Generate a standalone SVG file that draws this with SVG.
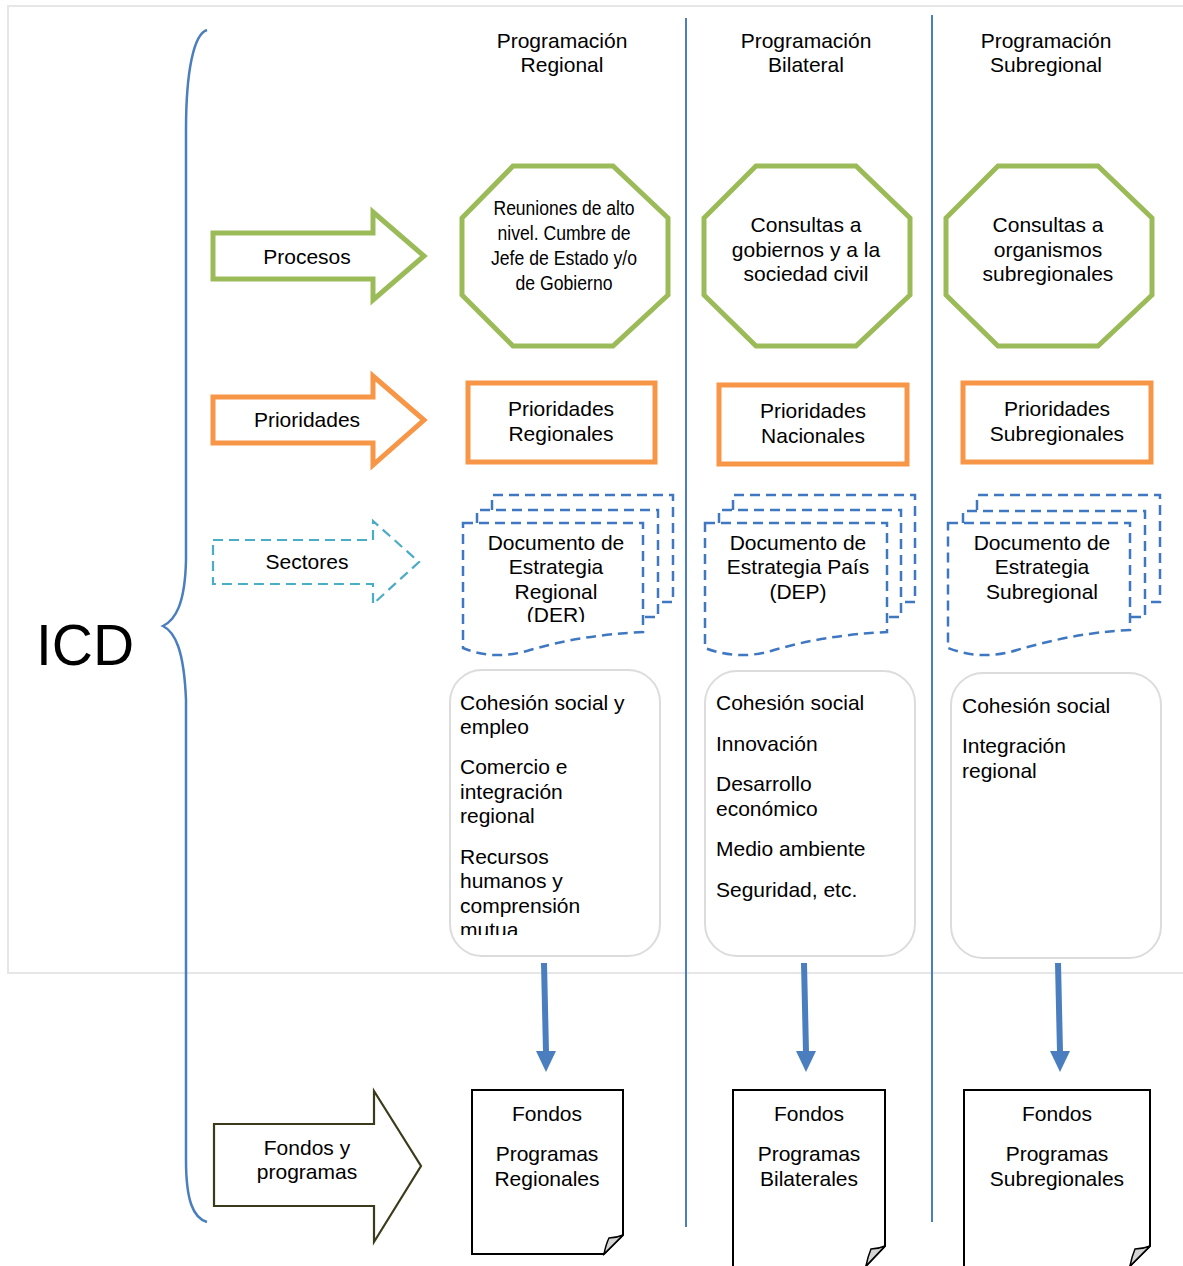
<svg xmlns="http://www.w3.org/2000/svg" width="1183" height="1266" viewBox="0 0 1183 1266">
<style>
text{font-family:"Liberation Sans",Arial,sans-serif;font-size:21px;fill:#000}
.c{text-anchor:middle}
.n{font-size:20.5px}
.oct{fill:#fff;stroke:#9bbb59;stroke-width:5}
.pri{fill:#fff;stroke:#f79646;stroke-width:5}
.doc{fill:#fff;stroke:#3f78c0;stroke-width:2.5;stroke-dasharray:10,6}
.rbox{fill:#fff;stroke:#dcdcdc;stroke-width:2}
.fon{fill:#fff;stroke:#000;stroke-width:2}
.fold{fill:#d4d4d4;stroke:#000;stroke-width:1.5}
.vl{stroke:#4a7ebf;stroke-width:2}
</style>
<defs>
<clipPath id="clipDER"><rect x="460" y="520" width="190" height="102"/></clipPath>
<clipPath id="clipMut"><rect x="450" y="670" width="210" height="265"/></clipPath>
</defs>
<rect x="0" y="0" width="1183" height="1266" fill="#fff"/>
<rect x="8" y="6" width="1190" height="967" fill="none" stroke="#e6e6e6" stroke-width="2"/>
<g id="brace">
<path d="M207,30 C194,34 186,70 186,130 L186,560 C185,605 175,620 163,626 C175,632 184,650 186,700 L186,1160 C186,1200 193,1218 207,1222" fill="none" stroke="#4a7ebf" stroke-width="2.5"/>
</g>
<g id="icd"><text x="36" y="665" style="font-size:57px">ICD</text></g>
<g id="dividers">
<line class="vl" x1="686" y1="18" x2="686" y2="1227"/>
<line class="vl" x1="932" y1="15" x2="932" y2="1222"/>
</g>
<g id="headers">
<text class="c" x="562" y="48">Programación</text><text class="c" x="562" y="72">Regional</text>
<text class="c" x="806" y="48">Programación</text><text class="c" x="806" y="72">Bilateral</text>
<text class="c" x="1046" y="48">Programación</text><text class="c" x="1046" y="72">Subregional</text>
</g>
<g id="arrow-procesos">
<polygon points="213,233 373,233 373,212 424,256 373,300 373,279 213,279" fill="#fff" stroke="#9bbb59" stroke-width="5"/>
<text class="c" x="307" y="264">Procesos</text>
</g>
<g id="arrow-prioridades">
<polygon points="213,397 373,397 373,376 424,420 373,465 373,443 213,443" fill="#fff" stroke="#f79646" stroke-width="5"/>
<text class="c" x="307" y="427">Prioridades</text>
</g>
<g id="arrow-sectores">
<polygon points="213,540 373,540 373,521 419,562 373,604 373,584 213,584" fill="#fff" stroke="#4bacc6" stroke-width="2.2" stroke-dasharray="10,6"/>
<text class="c" x="307" y="569">Sectores</text>
</g>
<g id="arrow-fondos">
<polygon points="214,1124 374,1124 374,1091 421,1166 374,1242 374,1206 214,1206" fill="#fff" stroke="#3b3a1a" stroke-width="2.2"/>
<text class="c" x="307" y="1155">Fondos y</text><text class="c" x="307" y="1179">programas</text>
</g>
<g id="oct-regional">
<polygon class="oct" points="513,166 613,166 668,218 668,295 613,346 513,346 462,295 462,218"/>
<text class="c n" x="564" y="215" textLength="141" lengthAdjust="spacingAndGlyphs">Reuniones de alto</text>
<text class="c n" x="564" y="240" textLength="133" lengthAdjust="spacingAndGlyphs">nivel. Cumbre de</text>
<text class="c n" x="564" y="265" textLength="146" lengthAdjust="spacingAndGlyphs">Jefe de Estado y/o</text>
<text class="c n" x="564" y="290" textLength="97" lengthAdjust="spacingAndGlyphs">de Gobierno</text>
</g>
<g id="oct-bilateral">
<polygon class="oct" points="756,166 856,166 910,218 910,295 856,346 756,346 704,295 704,218"/>
<text class="c" x="806" y="232">Consultas a</text><text class="c" x="806" y="257">gobiernos y a la</text><text class="c" x="806" y="281">sociedad civil</text>
</g>
<g id="oct-subregional">
<polygon class="oct" points="998,166 1098,166 1152,218 1152,295 1098,346 998,346 946,295 946,218"/>
<text class="c" x="1048" y="232">Consultas a</text><text class="c" x="1048" y="257">organismos</text><text class="c" x="1048" y="281">subregionales</text>
</g>
<g id="pri-regionales">
<rect class="pri" x="468" y="383" width="187" height="79"/>
<text class="c" x="561" y="416">Prioridades</text><text class="c" x="561" y="441">Regionales</text>
</g>
<g id="pri-nacionales">
<rect class="pri" x="719" y="385" width="188" height="79"/>
<text class="c" x="813" y="418">Prioridades</text><text class="c" x="813" y="443">Nacionales</text>
</g>
<g id="pri-subregionales">
<rect class="pri" x="963" y="383" width="188" height="79"/>
<text class="c" x="1057" y="416">Prioridades</text><text class="c" x="1057" y="441">Subregionales</text>
</g>
<g id="doc-der">
<path class="doc" d="M492,510 V495 H673 V602 H657"/>
<path class="doc" d="M477,523 V510 H658 V617 H643"/>
<path class="doc" d="M463,523 H643 V632 C600,634 565,640 530,650 C505,658 482,656 463,648 Z"/>
<g clip-path="url(#clipDER)">
<text class="c" x="556" y="550">Documento de</text><text class="c" x="556" y="574">Estrategia</text><text class="c" x="556" y="599">Regional</text><text class="c" x="556" y="622">(DER)</text>
</g>
</g>
<g id="doc-dep">
<path class="doc" d="M733,510 V495 H915 V602 H901"/>
<path class="doc" d="M719,523 V510 H901 V617 H887"/>
<path class="doc" d="M705,523 H887 V632 C844,634 809,640 774,650 C749,658 726,656 705,648 Z"/>
<text class="c" x="798" y="550">Documento de</text><text class="c" x="798" y="574">Estrategia País</text><text class="c" x="798" y="599">(DEP)</text>
</g>
<g id="doc-des">
<path class="doc" d="M977,510 V495 H1160 V602 H1145"/>
<path class="doc" d="M963,523 V511 H1145 V617 H1130"/>
<path class="doc" d="M948,523 H1130 V630 C1087,632 1052,640 1017,650 C992,658 969,656 948,648 Z"/>
<text class="c" x="1042" y="550">Documento de</text><text class="c" x="1042" y="574">Estrategia</text><text class="c" x="1042" y="599">Subregional</text>
</g>
<g id="sect-regional">
<rect class="rbox" x="450" y="670" width="210" height="286" rx="32"/>
<g clip-path="url(#clipMut)">
<text x="460" y="710">Cohesión social y</text><text x="460" y="734">empleo</text>
<text x="460" y="774">Comercio e</text><text x="460" y="799">integración</text><text x="460" y="823">regional</text>
<text x="460" y="864">Recursos</text><text x="460" y="888">humanos y</text><text x="460" y="913">comprensión</text><text x="460" y="937">mutua</text>
</g>
</g>
<g id="sect-bilateral">
<rect class="rbox" x="705" y="671" width="210" height="285" rx="32"/>
<text x="716" y="710">Cohesión social</text><text x="716" y="751">Innovación</text>
<text x="716" y="791">Desarrollo</text><text x="716" y="816">económico</text>
<text x="716" y="856">Medio ambiente</text><text x="716" y="897">Seguridad, etc.</text>
</g>
<g id="sect-subregional">
<rect class="rbox" x="951" y="673" width="210" height="285" rx="32"/>
<text x="962" y="713">Cohesión social</text><text x="962" y="753">Integración</text><text x="962" y="778">regional</text>
</g>
<g id="connectors">
<line x1="544" y1="963" x2="546" y2="1052" stroke="#4a7ebf" stroke-width="6"/>
<polygon points="536,1051 556,1051 546,1072" fill="#4a7ebf"/>
<line x1="804" y1="963" x2="806" y2="1052" stroke="#4a7ebf" stroke-width="6"/>
<polygon points="796,1051 816,1051 806,1072" fill="#4a7ebf"/>
<line x1="1058" y1="963" x2="1060" y2="1052" stroke="#4a7ebf" stroke-width="6"/>
<polygon points="1050,1051 1070,1051 1060,1072" fill="#4a7ebf"/>
</g>
<g id="fondos-regionales">
<path class="fon" d="M472,1090 H623 V1235 L604,1254 H472 Z"/>
<path class="fold" d="M623,1235 L604,1254 Q606,1244 609,1238 Q616,1238 623,1235 Z"/>
<text class="c" x="547" y="1121">Fondos</text><text class="c" x="547" y="1161">Programas</text><text class="c" x="547" y="1186">Regionales</text>
</g>
<g id="fondos-bilaterales">
<path class="fon" d="M733,1280 V1090 H885 V1246 L866,1266"/>
<path class="fold" d="M885,1246 L866,1266 Q868,1256 871,1249 Q878,1249 885,1246 Z"/>
<text class="c" x="809" y="1121">Fondos</text><text class="c" x="809" y="1161">Programas</text><text class="c" x="809" y="1186">Bilaterales</text>
</g>
<g id="fondos-subregionales">
<path class="fon" d="M964,1280 V1090 H1150 V1246 L1130,1266"/>
<path class="fold" d="M1150,1246 L1130,1266 Q1132,1256 1135,1249 Q1143,1249 1150,1246 Z"/>
<text class="c" x="1057" y="1121">Fondos</text><text class="c" x="1057" y="1161">Programas</text><text class="c" x="1057" y="1186">Subregionales</text>
</g>
</svg>
